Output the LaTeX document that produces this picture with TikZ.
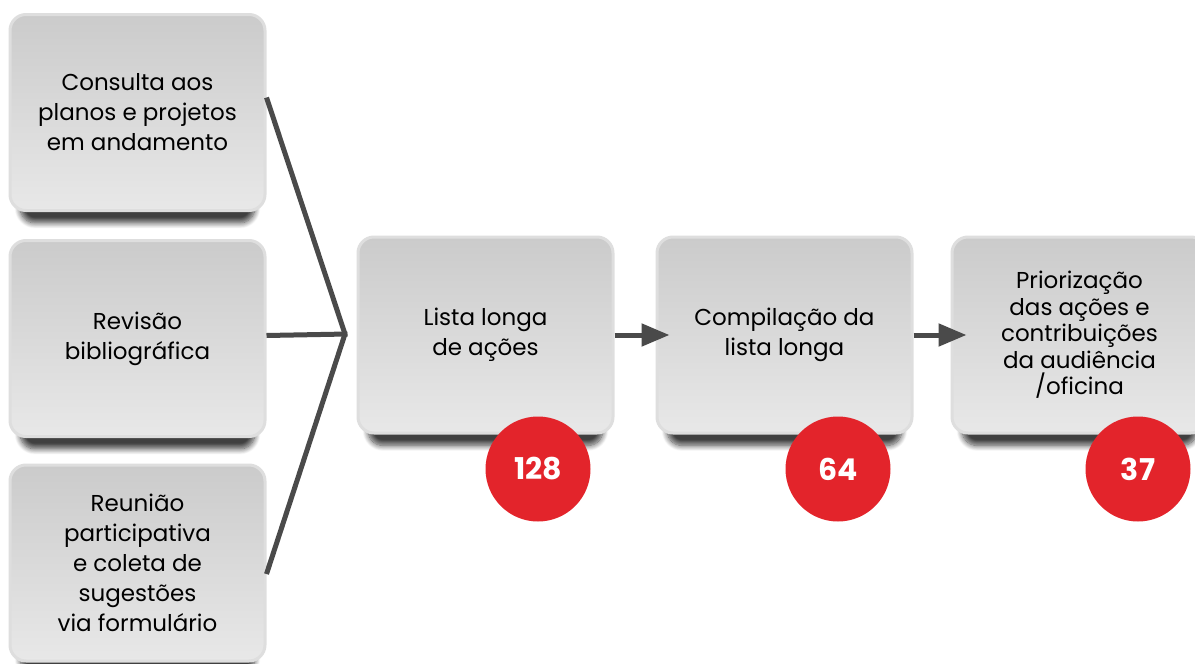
\documentclass[tikz,border=0pt]{standalone}
\usepackage{fontspec}
\setmainfont{Poppins}
\usetikzlibrary{shadows.blur,arrows.meta}
\definecolor{boxtop}{HTML}{CBCBCB}
\definecolor{boxbot}{HTML}{E8E8E8}
\definecolor{boxedge}{HTML}{DEDEDE}
\definecolor{linecol}{HTML}{4A4A4A}
\definecolor{badgered}{HTML}{E3242B}
\tikzset{
  stepbox/.style={rounded corners=16pt, minimum width=255pt, minimum height=196pt,
    top color=boxtop, bottom color=boxbot, draw=boxedge, line width=3pt,
    align=center, text=black, font=\fontsize{23}{30}\selectfont, inner sep=0pt,
    blur shadow={shadow xshift=0pt, shadow yshift=-22pt, shadow scale=0.92,
      shadow opacity=75, shadow blur steps=10, shadow blur radius=6pt,
      shadow blur extra rounding=6pt}},
  badge/.style={circle, fill=badgered, minimum size=105pt, inner sep=0pt,
    text=white, font=\fontsize{30}{30}\selectfont\bfseries},
  conn/.style={draw=linecol, line width=5pt},
  arr/.style={conn, -{Triangle[length=28pt,width=22pt]}}
}
\begin{document}
\begin{tikzpicture}[x=1pt,y=-1pt]
\useasboundingbox (0,0) rectangle (1195,664);
\node[stepbox] (b1) at (137.5,112.5) {Consulta aos\\planos e projetos\\em andamento};
\node[stepbox] (b2) at (137.5,338.5) {Revisão\\bibliográfica};
\node[stepbox] (b3) at (137.5,563) {Reunião\\participativa\\e coleta de\\sugestões\\via formulário};
\node[stepbox] (b4) at (485.5,335) {Lista longa\\de ações};
\node[stepbox] (b5) at (784.5,335) {Compilação da\\lista longa};
\node[stepbox, font=\fontsize{23}{26.5}\selectfont] (b6) at (1079.5,335) {Priorização\\das ações e\\contribuições\\da audiência\\/oficina};
\coordinate (j) at (345,334);
\draw[conn] ([yshift=15pt]b1.east) -- (j);
\draw[conn] ([yshift=-11pt]b3.east) -- (j);
\draw[conn] ([yshift=3pt]b2.east) -- ([xshift=2.5pt]j);
\draw[arr] (b4.east) -- ([xshift=14pt]b5.west);
\draw[arr] (b5.east) -- ([xshift=16pt]b6.west);
\node[badge] (c1) at (538,469) {128};
\node[badge] (c2) at (838,469) {64};
\node[badge] (c3) at (1138,469) {37};
\end{tikzpicture}
\end{document}
